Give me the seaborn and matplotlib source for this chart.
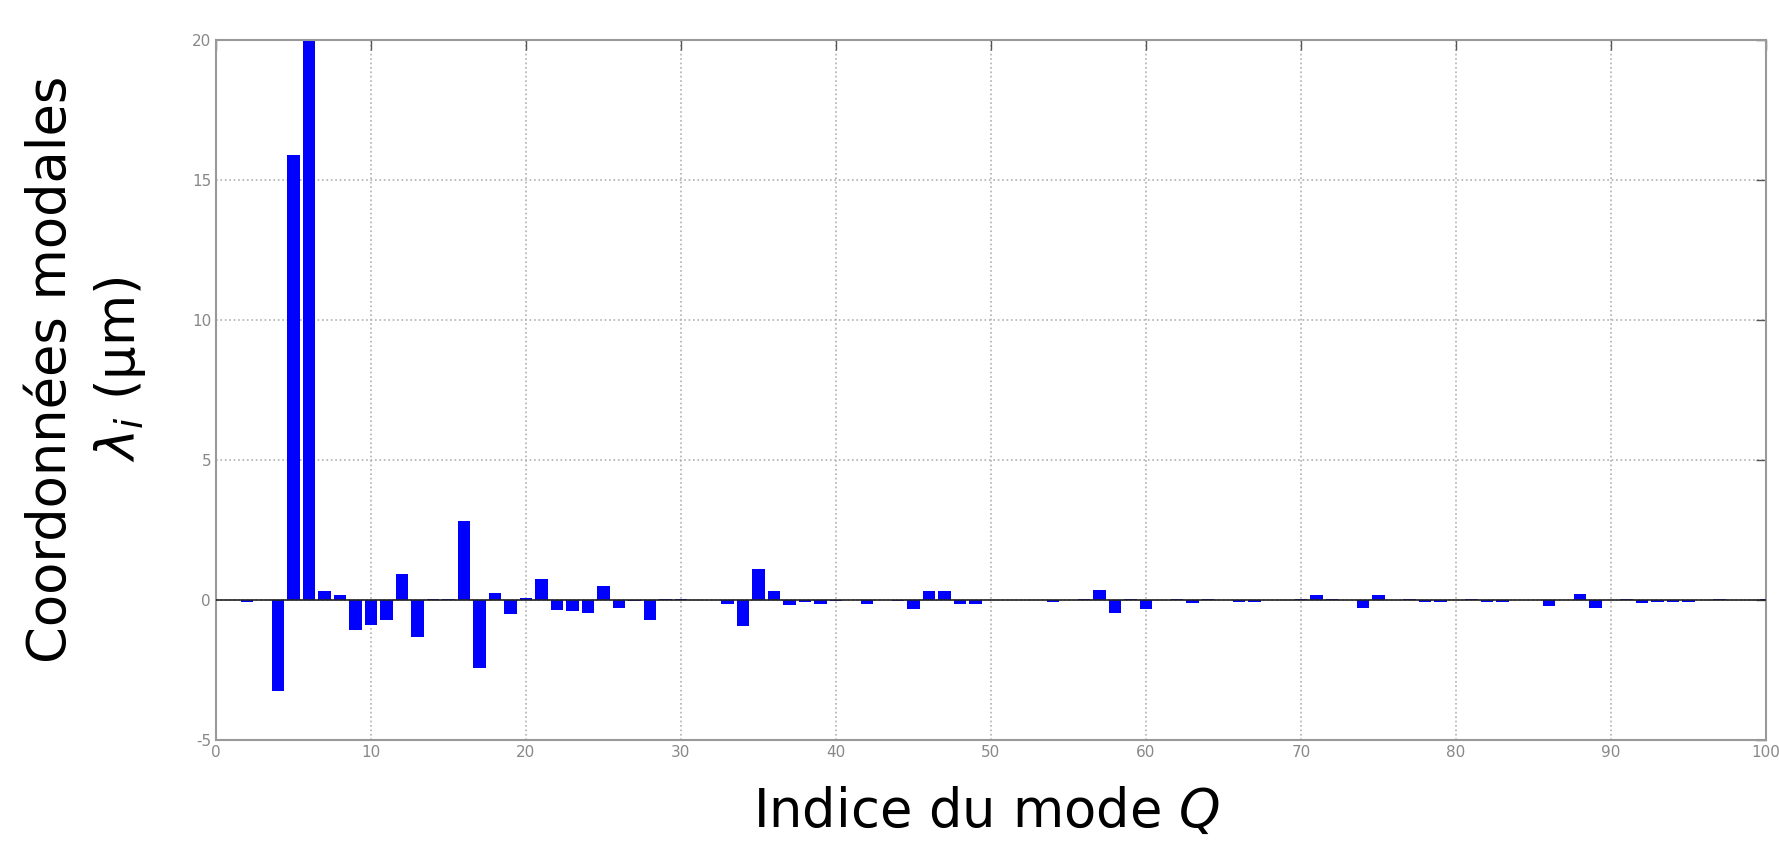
#import necessary packages
import numpy as np
import pandas as pd
import matplotlib
matplotlib.use('Agg')
from matplotlib import pyplot as plt
import seaborn as sns

#mode index and modal coordinates (um)
modes = list(range(1, 101))
coords = [0.0, -0.08, 0.0, -3.25, 15.9, 21.5, 0.32, 0.18, -1.05, -0.88,
          -0.7, 0.92, -1.3, 0.03, 0.03, 2.82, -2.42, 0.26, -0.48, 0.08,
          0.74, -0.35, -0.4, -0.45, 0.5, -0.28, -0.03, -0.7, 0.03, 0.03,
          0.02, 0.0, -0.14, -0.92, 1.12, 0.34, -0.18, -0.05, -0.15, -0.04,
          0.0, -0.13, 0.0, -0.03, -0.32, 0.33, 0.31, -0.14, -0.13, 0.02,
          0.0, 0.0, 0.0, -0.07, 0.0, 0.03, 0.38, -0.45, 0.03, -0.33,
          0.0, 0.03, -0.12, 0.03, 0.0, -0.07, -0.07, 0.0, 0.0, 0.05,
          0.2, 0.03, 0.0, -0.28, 0.2, 0.0, 0.03, -0.06, -0.06, 0.0,
          0.03, -0.06, -0.06, 0.0, 0.0, -0.2, 0.0, 0.22, -0.28, 0.0,
          0.03, -0.12, -0.06, -0.06, -0.06, 0.0, 0.03, 0.0, 0.0, 0.03]
xticks = [0, 10, 20, 30, 40, 50, 60, 70, 80, 90, 100]
yticks = [-5, 0, 5, 10, 15, 20]

df = pd.DataFrame({'Mode': modes, 'Coord': coords})

sns.set_style('white')
plt.rcParams['font.family'] = ['DejaVu Sans']
plt.rcParams['mathtext.fontset'] = 'dejavusans'

fig = plt.figure(figsize=(17.79, 8.41), dpi=100)
ax = fig.add_axes([0.1214, 0.120, 0.8712, 0.832])

#bars at their real x position
sns.barplot(data=df, x='Mode', y='Coord', native_scale=True, color='#0000ff',
            saturation=1, width=0.8, errorbar=None, linewidth=0, ax=ax)

#baseline like matlab bar()
ax.axhline(0, color='#222222', lw=1.2, zorder=3)

ax.set_xlim(0, 100)
ax.set_ylim(-5, 20)
ax.set_xticks(xticks)
ax.set_yticks(yticks)
ax.set_xticklabels([str(t) for t in xticks])
ax.set_yticklabels([str(t) for t in yticks])
ax.grid(True, linestyle=':', color='#b0b0b0', lw=1.2)
ax.set_axisbelow(True)
ax.tick_params(direction='in', top=True, right=True, length=7, width=1,
               color='#555555', labelsize=11, labelcolor='#888888')
for s in ax.spines.values():
    s.set_color('#999999')
    s.set_linewidth(1.5)

ax.set_xlabel('Indice du mode $Q$', fontsize=38, color='black')
ax.set_ylabel('Coordonnées modales\n$\\lambda_i$ (µm)', fontsize=38,
              color='black', linespacing=1.35)
ax.xaxis.set_label_coords(0.497, -0.065)
ax.yaxis.set_label_coords(-0.044, 0.53)

plt.savefig('out.png', dpi=100)
